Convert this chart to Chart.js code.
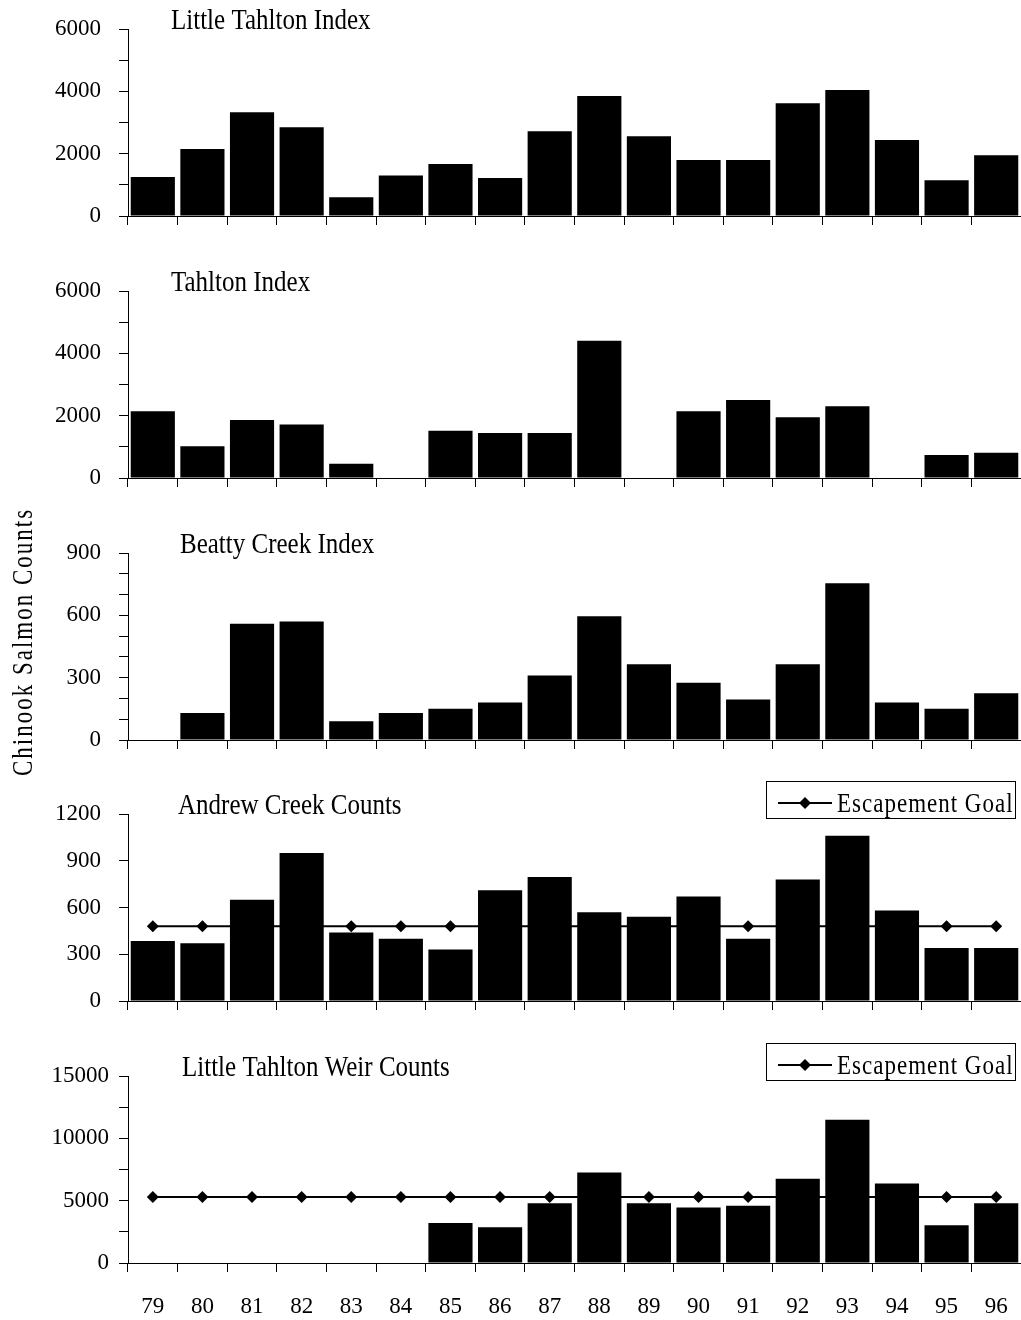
<!DOCTYPE html>
<html>
<head>
<meta charset="utf-8">
<title>Chinook Salmon Counts</title>
<script src="https://cdn.jsdelivr.net/npm/chart.js@4.4.1/dist/chart.umd.min.js"></script>
<style>
  html, body { margin: 0; padding: 0; background: #fff; }
  #wrap { position: relative; width: 1021px; height: 1320px; overflow: hidden; background: #fff; }
  #wrap canvas { position: absolute; left: 0; }
</style>
</head>
<body>
<div id="wrap">
  <canvas id="p1" width="1021" height="277" style="top:-21px"></canvas>
  <canvas id="p2" width="1021" height="277" style="top:241px"></canvas>
  <canvas id="p3" width="1021" height="277" style="top:503px"></canvas>
  <canvas id="p4" width="1021" height="277" style="top:764px"></canvas>
  <canvas id="p5" width="1021" height="294" style="top:1026px"></canvas>
</div>
<script>
// Return years (19xx), one bar per year
const years = ['79', '80', '81', '82', '83', '84', '85', '86', '87', '88', '89', '90', '91', '92', '93', '94', '95', '96'];

const littleTahltonIndex = [1250, 2150, 3330, 2850, 600, 1300, 1670, 1220, 2720, 3850, 2560, 1800, 1800, 3620, 4040, 2440, 1150, 1950];
const tahltonIndex       = [2140, 1020, 1860, 1720, 460, null, 1520, 1440, 1440, 4400, null, 2140, 2500, 1950, 2300, null, 740, 810];
const beattyCreekIndex   = [null, 130, 560, 570, 90, 130, 150, 180, 310, 595, 365, 275, 195, 365, 755, 180, 150, 225];
const andrewCreekCounts  = [385, 370, 650, 950, 440, 400, 330, 710, 795, 570, 540, 670, 400, 780, 1060, 580, 340, 340];
const andrewCreekGoal    = [480, 480, 480, 480, 480, 480, 480, 480, 480, 480, 480, 480, 480, 480, 480, 480, 480, 480];
const weirCounts         = [null, null, null, null, null, null, 3200, 2870, 4800, 7260, 4800, 4450, 4600, 6750, 11500, 6380, 3030, 4800];
const weirGoal           = [5300, 5300, 5300, 5300, 5300, 5300, 5300, 5300, 5300, 5300, 5300, 5300, 5300, 5300, 5300, 5300, 5300, 5300];

const panelTitles = ['Little Tahlton Index', 'Tahlton Index', 'Beatty Creek Index', 'Andrew Creek Counts', 'Little Tahlton Weir Counts'];
const axisTitle = 'Chinook Salmon Counts';
const goalLabel = 'Escapement Goal';

const FONT = '"Liberation Serif", "Times New Roman", serif';

// Panel title, optional legend box and the shared vertical axis title
const panelText = {
  id: 'panelText',
  afterDraw(chart, args, opts) {
    const ctx = chart.ctx;
    const a = chart.chartArea;
    ctx.save();
    ctx.fillStyle = '#000';
    ctx.textBaseline = 'alphabetic';
    ctx.textAlign = 'left';
    ctx.font = '25px ' + FONT;
    ctx.translate(opts.titleX, a.top);
    ctx.scale(1, 1.2);
    ctx.fillText(opts.title, 0, 0);
    ctx.restore();

    if (opts.legend) {
      const ds = chart.data.datasets.find(d => d.type === 'line');
      const bx = 766, by = a.top - 33, bw = 249, bh = 37;
      ctx.save();
      ctx.strokeStyle = '#000';
      ctx.lineWidth = 1;
      ctx.strokeRect(bx + 0.5, by + 0.5, bw, bh);
      const ly = a.top - 11;
      ctx.lineWidth = 2;
      ctx.beginPath();
      ctx.moveTo(778, ly);
      ctx.lineTo(832, ly);
      ctx.stroke();
      ctx.fillStyle = '#000';
      ctx.beginPath();
      ctx.moveTo(805 - 6, ly);
      ctx.lineTo(805, ly - 6);
      ctx.lineTo(805 + 6, ly);
      ctx.lineTo(805, ly + 6);
      ctx.closePath();
      ctx.fill();
      ctx.font = '23px ' + FONT;
      ctx.letterSpacing = '1px';
      ctx.textAlign = 'left';
      ctx.textBaseline = 'alphabetic';
      ctx.translate(837, a.top - 2.5);
      ctx.scale(1, 1.17);
      ctx.fillText(ds ? ds.label : '', 0, 0);
      ctx.restore();
    }

    if (opts.axisTitle) {
      ctx.save();
      ctx.fillStyle = '#000';
      ctx.font = '23px ' + FONT;
      ctx.letterSpacing = '2px';
      ctx.textAlign = 'center';
      ctx.textBaseline = 'alphabetic';
      ctx.translate(32, a.top + 89);
      ctx.rotate(-Math.PI / 2);
      ctx.scale(1, 1.27);
      ctx.fillText(opts.axisTitle, 0, 0);
      ctx.restore();
    }
  }
};

function makePanel(id, cfg) {
  const datasets = [{
    type: 'bar',
    label: cfg.title,
    data: cfg.values,
    backgroundColor: '#000',
    borderWidth: 0,
    barPercentage: 0.89,
    categoryPercentage: 1,
    order: 1
  }];
  if (cfg.goal) {
    datasets.push({
      type: 'line',
      label: goalLabel,
      data: cfg.goal,
      borderColor: '#000',
      borderWidth: 2,
      fill: false,
      tension: 0,
      pointStyle: 'rectRot',
      pointRadius: 6,
      pointBackgroundColor: '#000',
      pointBorderColor: '#000',
      pointBorderWidth: 0,
      order: 2
    });
  }
  return new Chart(document.getElementById(id), {
    type: 'bar',
    data: { labels: years, datasets },
    options: {
      responsive: false,
      animation: false,
      devicePixelRatio: 1,
      layout: { autoPadding: false, padding: { top: 50, left: 0, right: 0, bottom: 0 } },
      plugins: {
        legend: { display: false },
        tooltip: { enabled: false },
        panelText: { title: cfg.title, titleX: cfg.titleX, legend: !!cfg.goal, axisTitle: cfg.axisTitle || '' }
      },
      scales: {
        x: {
          offset: true,
          grid: { display: true, drawOnChartArea: false, drawTicks: true, tickLength: 9, color: '#000', lineWidth: 1, offset: true },
          border: { display: true, color: '#000', width: 1 },
          ticks: { display: !!cfg.showX, color: '#000', font: { family: FONT, size: 23 }, padding: 21, autoSkip: false, maxRotation: 0, minRotation: 0 },
          afterFit(scale) {
            scale.height = cfg.xHeight;
            scale.paddingLeft = 0;
            scale.paddingRight = 0;
          }
        },
        y: {
          min: 0,
          max: cfg.max,
          grid: { display: true, drawOnChartArea: false, drawTicks: true, tickLength: 9, color: '#000', lineWidth: 1 },
          border: { display: true, color: '#000', width: 1 },
          ticks: {
            stepSize: cfg.step,
            autoSkip: false,
            color: '#000',
            padding: cfg.yPad,
            font: { family: FONT, size: 23 },
            callback: v => (v % cfg.major === 0 ? String(v) : '')
          },
          afterFit(scale) { scale.width = 128; }
        }
      }
    },
    plugins: [panelText]
  });
}

makePanel('p1', { title: panelTitles[0], titleX: 171, values: littleTahltonIndex, max: 6000, step: 1000, major: 2000, xHeight: 40, yPad: 18 });
makePanel('p2', { title: panelTitles[1], titleX: 171, values: tahltonIndex, max: 6000, step: 1000, major: 2000, xHeight: 40, yPad: 18 });
makePanel('p3', { title: panelTitles[2], titleX: 180, values: beattyCreekIndex, max: 900, step: 100, major: 300, xHeight: 40, yPad: 18, axisTitle: axisTitle });
makePanel('p4', { title: panelTitles[3], titleX: 178, values: andrewCreekCounts, goal: andrewCreekGoal, max: 1200, step: 300, major: 300, xHeight: 40, yPad: 18 });
makePanel('p5', { title: panelTitles[4], titleX: 182, values: weirCounts, goal: weirGoal, max: 15000, step: 2500, major: 5000, xHeight: 57, yPad: 10, showX: true });
</script>
</body>
</html>
